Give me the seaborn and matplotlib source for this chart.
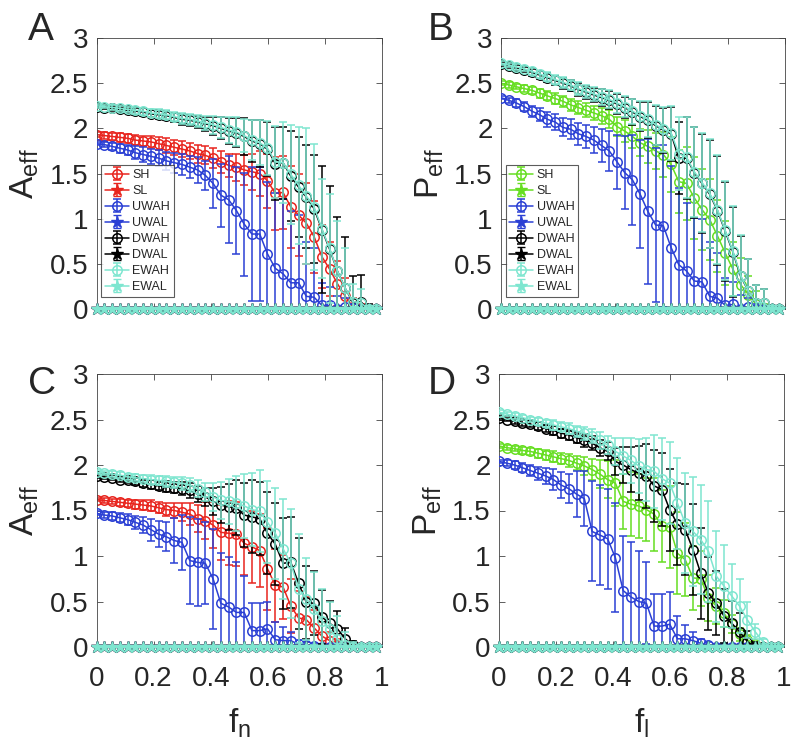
import numpy as np
import matplotlib
matplotlib.use("Agg")
import matplotlib.pyplot as plt
import seaborn as sns

# ---------------- data ----------------
x = np.round(np.linspace(0, 0.98, 37), 4)

# Panel A (A_eff vs f_n, high-level series)
A_SH = [1.93,1.92,1.91,1.90,1.89,1.87,1.86,1.85,1.83,1.81,1.79,1.77,1.75,1.72,1.70,1.67,1.63,1.59,1.57,1.54,1.52,1.50,1.42,1.28,1.29,1.13,1.04,0.95,0.80,0.58,0.44,0.28,0.14,0.02,0.0,0.0,0.0]
A_UWAH = [1.83,1.82,1.80,1.78,1.76,1.73,1.71,1.69,1.67,1.64,1.62,1.60,1.57,1.54,1.48,1.39,1.26,1.21,1.09,0.94,0.83,0.83,0.61,0.45,0.39,0.29,0.29,0.14,0.13,0.04,0.04,0.0,0.02,0.01,0.0,0.0,0.0]
A_DWAH = [2.24,2.23,2.22,2.21,2.20,2.19,2.18,2.16,2.15,2.14,2.12,2.10,2.09,2.07,2.05,2.03,2.00,1.97,1.95,1.91,1.86,1.83,1.77,1.61,1.62,1.47,1.35,1.24,1.11,0.88,0.66,0.42,0.23,0.07,0.08,0.0,0.0]
A_EWAH = [2.25,2.24,2.23,2.22,2.21,2.20,2.19,2.17,2.16,2.15,2.13,2.11,2.10,2.08,2.06,2.04,2.01,1.98,1.96,1.92,1.87,1.84,1.78,1.63,1.62,1.49,1.37,1.25,1.13,0.89,0.67,0.42,0.23,0.08,0.07,0.0,0.0]
A_SH_err = [0.03,0.04,0.04,0.05,0.05,0.06,0.06,0.07,0.07,0.08,0.08,0.09,0.09,0.10,0.10,0.11,0.12,0.13,0.15,0.17,0.20,0.25,0.30,0.40,0.40,0.45,0.45,0.45,0.40,0.35,0.30,0.25,0.20,0.10,0.05,0.0,0.0]
A_UWAH_err = [0.02,0.03,0.04,0.05,0.06,0.07,0.08,0.08,0.09,0.10,0.11,0.12,0.12,0.14,0.16,0.27,0.35,0.48,0.48,0.57,0.74,0.74,0.80,0.83,0.83,0.80,0.75,0.60,0.55,0.25,0.20,0.14,0.10,0.05,0.03,0.0,0.0]
A_DWAH_err = [0.02,0.02,0.03,0.03,0.03,0.04,0.04,0.04,0.05,0.05,0.05,0.06,0.06,0.07,0.08,0.10,0.12,0.14,0.16,0.20,0.23,0.26,0.30,0.40,0.40,0.50,0.55,0.57,0.60,0.70,0.70,0.60,0.57,0.30,0.30,0.05,0.0]
A_EWAH_err = [0.02,0.02,0.03,0.03,0.03,0.04,0.04,0.04,0.05,0.05,0.05,0.06,0.06,0.07,0.08,0.10,0.12,0.14,0.16,0.18,0.22,0.25,0.30,0.40,0.45,0.55,0.65,0.75,0.70,0.55,0.60,0.55,0.45,0.20,0.15,0.03,0.0]

# Panel B (P_eff vs f_l)
B_SH = [2.50,2.48,2.46,2.44,2.42,2.39,2.36,2.33,2.30,2.26,2.23,2.20,2.17,2.14,2.10,2.02,1.97,1.91,1.84,1.80,1.75,1.71,1.60,1.41,1.39,1.23,1.10,0.99,0.81,0.62,0.44,0.27,0.16,0.05,0.0,0.0,0.0]
B_UWAH = [2.34,2.31,2.28,2.24,2.19,2.15,2.10,2.07,2.01,1.99,1.94,1.91,1.87,1.81,1.75,1.63,1.51,1.43,1.27,1.08,0.93,0.92,0.68,0.49,0.42,0.31,0.30,0.14,0.12,0.04,0.05,0.0,0.02,0.0,0.0,0.0,0.0]
B_DWAH = [2.71,2.69,2.67,2.65,2.62,2.59,2.56,2.53,2.50,2.47,2.43,2.40,2.37,2.34,2.31,2.27,2.23,2.18,2.13,2.09,2.03,1.98,1.94,1.67,1.67,1.51,1.39,1.27,1.09,0.86,0.63,0.36,0.20,0.07,0.07,0.0,0.0]
B_EWAH = [2.72,2.70,2.68,2.66,2.63,2.60,2.57,2.54,2.51,2.48,2.44,2.41,2.38,2.35,2.32,2.28,2.24,2.19,2.14,2.10,2.04,1.99,1.95,1.72,1.68,1.52,1.40,1.28,1.10,0.87,0.64,0.37,0.20,0.07,0.07,0.0,0.0]
B_SH_err = [0.02,0.03,0.03,0.04,0.04,0.05,0.05,0.06,0.06,0.07,0.07,0.08,0.08,0.09,0.10,0.11,0.12,0.13,0.15,0.18,0.20,0.25,0.30,0.35,0.40,0.45,0.45,0.45,0.40,0.35,0.30,0.30,0.20,0.15,0.05,0.0,0.0]
B_UWAH_err = [0.02,0.03,0.04,0.05,0.06,0.07,0.08,0.09,0.10,0.11,0.12,0.13,0.14,0.18,0.22,0.30,0.40,0.50,0.60,0.80,0.85,0.90,0.90,0.85,0.75,0.70,0.70,0.60,0.50,0.30,0.25,0.15,0.10,0.05,0.03,0.0,0.0]
B_DWAH_err = [0.02,0.02,0.03,0.03,0.04,0.04,0.05,0.05,0.06,0.06,0.07,0.07,0.08,0.09,0.10,0.11,0.12,0.14,0.16,0.20,0.22,0.25,0.30,0.40,0.45,0.50,0.55,0.60,0.60,0.55,0.50,0.45,0.35,0.20,0.15,0.03,0.0]
B_EWAH_err = [0.02,0.02,0.03,0.03,0.04,0.04,0.05,0.05,0.06,0.06,0.07,0.07,0.08,0.09,0.10,0.11,0.12,0.14,0.16,0.20,0.22,0.25,0.30,0.40,0.45,0.50,0.55,0.60,0.60,0.55,0.50,0.45,0.35,0.20,0.15,0.03,0.0]

# Panel C (A_eff vs f_n, low-level series)
C_SH = [1.62,1.61,1.60,1.59,1.58,1.57,1.56,1.55,1.53,1.51,1.50,1.48,1.46,1.41,1.39,1.34,1.26,1.25,1.24,1.14,1.10,1.06,0.86,0.68,0.66,0.45,0.32,0.30,0.21,0.12,0.07,0.02,0.0,0.0,0.0,0.0,0.0]
C_UWAH = [1.47,1.45,1.44,1.42,1.40,1.37,1.34,1.29,1.24,1.21,1.17,1.15,0.95,0.93,0.92,0.75,0.48,0.44,0.38,0.38,0.18,0.18,0.20,0.08,0.07,0.07,0.03,0.02,0.01,0.0,0.0,0.0,0.0,0.0,0.0,0.0,0.0]
C_DWAH = [1.88,1.87,1.86,1.84,1.83,1.82,1.80,1.79,1.77,1.76,1.75,1.74,1.72,1.68,1.65,1.60,1.56,1.54,1.53,1.45,1.43,1.41,1.25,1.13,0.92,0.93,0.70,0.49,0.48,0.33,0.26,0.20,0.09,0.02,0.0,0.0,0.0]
C_EWAH = [1.92,1.91,1.90,1.89,1.87,1.86,1.85,1.84,1.83,1.82,1.81,1.80,1.78,1.74,1.70,1.65,1.61,1.60,1.58,1.55,1.51,1.49,1.37,1.25,1.08,0.92,0.64,0.53,0.42,0.29,0.20,0.09,0.02,0.0,0.0,0.0,0.0]
C_SH_err = [0.02,0.03,0.03,0.04,0.04,0.05,0.05,0.06,0.06,0.07,0.08,0.10,0.12,0.15,0.20,0.25,0.30,0.35,0.35,0.35,0.40,0.40,0.45,0.40,0.35,0.30,0.30,0.25,0.20,0.15,0.10,0.07,0.05,0.02,0.0,0.0,0.0]
C_UWAH_err = [0.02,0.03,0.04,0.05,0.06,0.07,0.09,0.12,0.14,0.16,0.25,0.30,0.48,0.48,0.45,0.55,0.55,0.55,0.55,0.40,0.30,0.30,0.30,0.20,0.15,0.10,0.05,0.03,0.02,0.01,0.0,0.0,0.0,0.0,0.0,0.0,0.0]
C_DWAH_err = [0.02,0.02,0.03,0.03,0.03,0.04,0.04,0.05,0.05,0.06,0.06,0.07,0.08,0.09,0.10,0.15,0.20,0.25,0.30,0.35,0.40,0.40,0.45,0.45,0.50,0.50,0.50,0.40,0.35,0.30,0.25,0.20,0.12,0.05,0.02,0.0,0.0]
C_EWAH_err = [0.02,0.02,0.03,0.03,0.03,0.04,0.04,0.05,0.05,0.06,0.06,0.07,0.08,0.09,0.10,0.15,0.20,0.25,0.30,0.35,0.40,0.45,0.45,0.50,0.55,0.60,0.60,0.45,0.40,0.35,0.30,0.25,0.15,0.05,0.02,0.0,0.0]

# Panel D (P_eff vs f_l, low-level series)
D_SH = [2.21,2.19,2.18,2.16,2.15,2.13,2.11,2.09,2.07,2.05,2.02,1.99,1.95,1.90,1.84,1.80,1.60,1.57,1.55,1.51,1.46,1.33,1.32,1.03,0.96,0.76,0.75,0.54,0.45,0.37,0.25,0.14,0.08,0.03,0.0,0.0,0.0]
D_UWAH = [2.04,2.02,2.00,1.97,1.94,1.91,1.88,1.84,1.78,1.74,1.68,1.63,1.27,1.23,1.19,0.98,0.62,0.55,0.50,0.48,0.23,0.23,0.25,0.09,0.09,0.07,0.04,0.02,0.0,0.0,0.0,0.0,0.0,0.0,0.0,0.0,0.0]
D_DWAH = [2.52,2.50,2.48,2.46,2.45,2.43,2.40,2.38,2.35,2.33,2.30,2.27,2.24,2.19,2.15,2.04,2.00,1.95,1.91,1.88,1.77,1.73,1.51,1.35,1.29,1.07,0.81,0.59,0.48,0.34,0.26,0.17,0.06,0.0,0.0,0.0,0.0]
D_EWAH = [2.58,2.56,2.54,2.52,2.50,2.48,2.46,2.44,2.42,2.40,2.37,2.35,2.32,2.27,2.22,2.15,2.10,2.05,1.99,1.95,1.93,1.85,1.80,1.58,1.36,1.27,1.18,1.05,0.78,0.67,0.56,0.45,0.30,0.17,0.06,0.0,0.0]
D_SH_err = [0.02,0.03,0.03,0.04,0.04,0.05,0.05,0.06,0.06,0.07,0.08,0.10,0.12,0.15,0.20,0.25,0.30,0.35,0.35,0.35,0.40,0.40,0.45,0.45,0.40,0.35,0.30,0.25,0.20,0.15,0.10,0.07,0.05,0.02,0.0,0.0,0.0]
D_UWAH_err = [0.02,0.03,0.04,0.05,0.06,0.07,0.09,0.12,0.14,0.16,0.25,0.30,0.55,0.55,0.55,0.60,0.60,0.60,0.55,0.45,0.35,0.35,0.35,0.25,0.15,0.10,0.05,0.03,0.02,0.01,0.0,0.0,0.0,0.0,0.0,0.0,0.0]
D_DWAH_err = [0.02,0.02,0.03,0.03,0.03,0.04,0.04,0.05,0.05,0.06,0.06,0.07,0.08,0.09,0.10,0.15,0.20,0.25,0.30,0.35,0.40,0.40,0.45,0.45,0.50,0.50,0.50,0.40,0.35,0.30,0.25,0.20,0.12,0.05,0.02,0.0,0.0]
D_EWAH_err = [0.02,0.02,0.03,0.03,0.03,0.04,0.04,0.05,0.05,0.06,0.06,0.07,0.08,0.09,0.10,0.15,0.20,0.25,0.30,0.35,0.40,0.45,0.45,0.50,0.55,0.60,0.60,0.55,0.50,0.45,0.35,0.30,0.20,0.08,0.03,0.0,0.0]

# Low-level ("L") series: all zero
L_zero = [0.0] * 37

labels = ["SH", "SL", "UWAH", "UWAL", "DWAH", "DWAL", "EWAH", "EWAL"]
panel_letters = ["A", "B", "C", "D"]
y_labels = ["A$_{\\mathrm{eff}}$", "P$_{\\mathrm{eff}}$", "A$_{\\mathrm{eff}}$", "P$_{\\mathrm{eff}}$"]
x_labels = [None, None, "f$_{\\mathrm{n}}$", "f$_{\\mathrm{l}}$"]
x_ticks = [0, 0.2, 0.4, 0.6, 0.8, 1]
x_ticklabels = ["0", "0.2", "0.4", "0.6", "0.8", "1"]
y_ticks = [0, 0.5, 1, 1.5, 2, 2.5, 3]
y_ticklabels = ["0", "0.5", "1", "1.5", "2", "2.5", "3"]

RED = "#e8251e"
GREEN = "#66de22"
BLUE = "#2b40d4"
BLACK = "#000000"
CYAN = "#7ee6d0"

panels = [
    dict(S=A_SH, Se=A_SH_err, U=A_UWAH, Ue=A_UWAH_err, D=A_DWAH, De=A_DWAH_err, E=A_EWAH, Ee=A_EWAH_err, scol=RED, legend=True),
    dict(S=B_SH, Se=B_SH_err, U=B_UWAH, Ue=B_UWAH_err, D=B_DWAH, De=B_DWAH_err, E=B_EWAH, Ee=B_EWAH_err, scol=GREEN, legend=True),
    dict(S=C_SH, Se=C_SH_err, U=C_UWAH, Ue=C_UWAH_err, D=C_DWAH, De=C_DWAH_err, E=C_EWAH, Ee=C_EWAH_err, scol=RED, legend=False),
    dict(S=D_SH, Se=D_SH_err, U=D_UWAH, Ue=D_UWAH_err, D=D_DWAH, De=D_DWAH_err, E=D_EWAH, Ee=D_EWAH_err, scol=GREEN, legend=False),
]

# ---------------- style ----------------
sns.set_theme(style="ticks")
plt.rcParams["font.family"] = ["Liberation Sans", "DejaVu Sans"]
plt.rcParams["mathtext.fontset"] = "custom"
plt.rcParams["mathtext.rm"] = "Liberation Sans"
plt.rcParams["mathtext.it"] = "Liberation Sans"

fig = plt.figure(figsize=(7.96, 7.44), dpi=100)
W, H = 796.0, 744.0
boxes = [
    (96.5, 38, 382, 309),
    (501, 38, 785, 309),
    (96.5, 374, 382, 647),
    (499, 374, 784, 647),
]
letter_pos = [(28, 12), (428, 12), (28, 366), (428, 366)]

ms = 6.8
lw = 1.1
cap = 3

for k, (p, (l, t, r, b)) in enumerate(zip(panels, boxes)):
    ax = fig.add_axes([l / W, 1 - b / H, (r - l) / W, (b - t) / H])
    series = [
        (p["S"], p["Se"], p["scol"]),
        (L_zero, None, p["scol"]),
        (p["U"], p["Ue"], BLUE),
        (L_zero, None, BLUE),
        (p["D"], p["De"], BLACK),
        (L_zero, None, BLACK),
        (p["E"], p["Ee"], CYAN),
        (L_zero, None, CYAN),
    ]
    handles = []
    for j, (yv, ye, col) in enumerate(series):
        if ye is not None:
            h = ax.errorbar(x, yv, yerr=ye, color=col, ecolor=col, linestyle="-",
                            marker="o", markersize=ms, markerfacecolor="none",
                            markeredgecolor=col, markeredgewidth=1.1, linewidth=lw,
                            elinewidth=1.1, capsize=cap, capthick=1.1,
                            label=labels[j], zorder=2 + j)
        else:
            h = ax.errorbar(x, yv, yerr=np.zeros(len(x)), color=col, ecolor=col,
                            linestyle="-", marker="*", markersize=9, linewidth=lw,
                            elinewidth=1.1, capsize=cap, label=labels[j],
                            zorder=2 + j)
            h.lines[0].set_clip_on(False)
        handles.append(h)
    # seaborn overlay of the zero level line for the top (cyan) series
    sns.lineplot(x=x, y=L_zero, ax=ax, color=CYAN, linewidth=lw, legend=False, zorder=12)

    ax.set_xlim(0, 1)
    ax.set_ylim(0, 3)
    ax.set_xticks(x_ticks)
    ax.set_yticks(y_ticks)
    ax.set_yticklabels(y_ticklabels, fontsize=20)
    if k >= 2:
        ax.set_xticklabels(x_ticklabels, fontsize=20)
        ax.set_xlabel(x_labels[k], fontsize=24, labelpad=10)
    else:
        ax.set_xticklabels([])
    ax.set_ylabel(y_labels[k], fontsize=24, labelpad=6)
    ax.tick_params(axis="y", direction="in", length=4, width=0.6, color="#444444",
                   right=True, pad=6)
    ax.tick_params(axis="x", direction="in", length=4, width=0.6, color="#444444",
                   top=True, pad=14)
    for s in ax.spines.values():
        s.set_visible(True)
        s.set_linewidth(0.6)
        s.set_color("#444444")
    fig.text(letter_pos[k][0] / W, 1 - letter_pos[k][1] / H, panel_letters[k],
             fontsize=28, ha="left", va="top")
    if p["legend"]:
        leg = ax.legend(handles, labels, loc="lower left", fontsize=9,
                        frameon=True, fancybox=False, edgecolor="#333333",
                        handlelength=1.9, borderpad=0.3, labelspacing=0.32,
                        handletextpad=0.3, borderaxespad=0.0,
                        bbox_to_anchor=(0.016, 0.045))
        leg.get_frame().set_linewidth(0.8)
        leg.set_zorder(20)

fig.savefig("out.png", dpi=100)
